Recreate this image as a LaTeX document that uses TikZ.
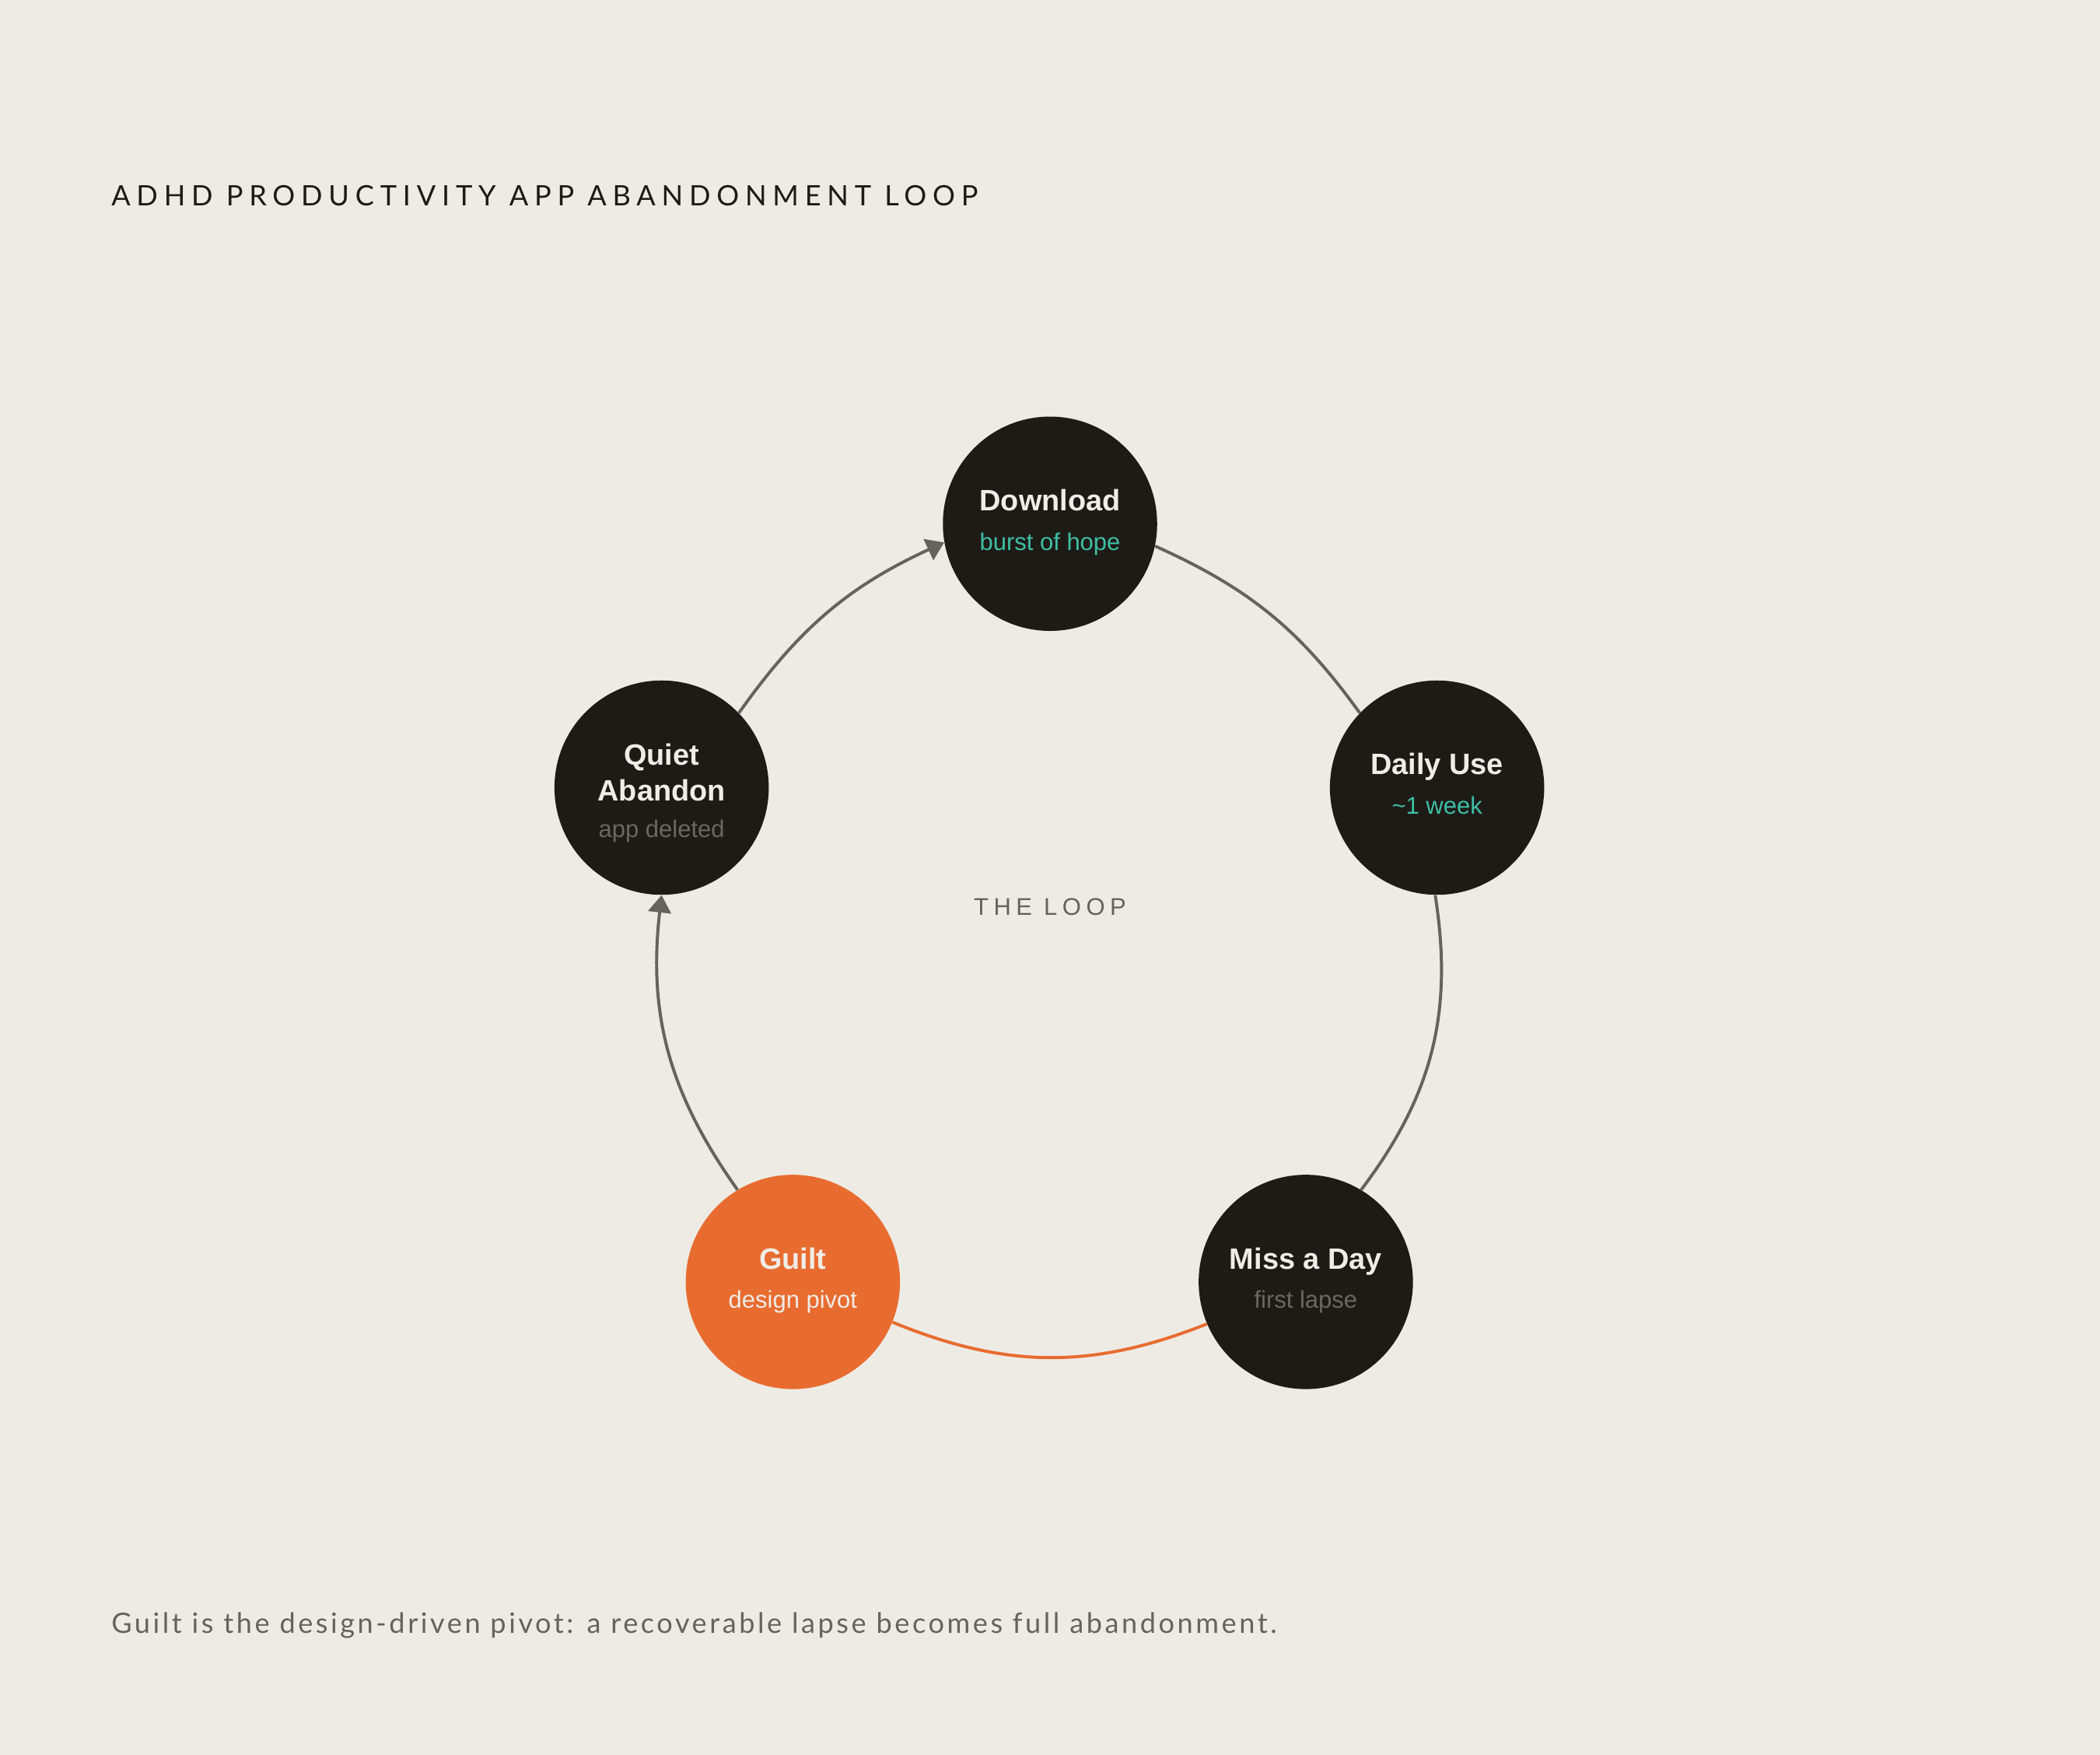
\documentclass[tikz,border=0pt]{standalone}
\usepackage{fontspec}
\setmainfont{Liberation Sans}
\newfontfamily\headfont[LetterSpace=21.5]{Lato}
\newfontfamily\notefont[LetterSpace=9.8]{Lato}
\newfontfamily\loopfont[LetterSpace=21]{Liberation Sans}
\usetikzlibrary{arrows.meta}

\definecolor{paper}{HTML}{EEEBE5}
\definecolor{ink}{HTML}{1E1B17}
\definecolor{pale}{HTML}{F0ECE6}
\definecolor{mint}{HTML}{3DBFA5}
\definecolor{ash}{HTML}{6B6760}
\definecolor{wire}{HTML}{66635E}
\definecolor{ember}{HTML}{E86C30}

\newcommand{\sub}{\fontsize{18}{29.5}\selectfont}

\tikzset{
	stage/.style={circle, fill=ink, minimum size=160pt, inner sep=0pt,
		align=center, text=pale, font=\fontsize{22}{29.5}\selectfont},
	pivot/.style={stage, fill=ember},
	link/.style={draw=wire, line width=2.3pt},
	linkhead/.style={link, -{Triangle[length=13pt,width=17pt]}},
}

\begin{document}
\begin{tikzpicture}[x=1pt,y=1pt]
		\fill[paper] (0,0) rectangle (1568,1310);
		\useasboundingbox (0,0) rectangle (1568,1310);

		\node[anchor=base west, inner sep=0pt, text=ink, font=\headfont\fontsize{21}{25}\selectfont]
			(title) at (83,1156.6) {ADHD PRODUCTIVITY APP ABANDONMENT LOOP};

		\node[stage] (download) at (784,919) {\textbf{Download}\\{\sub\color{mint}burst of hope}\rule[-6pt]{0pt}{6pt}};
		\node[stage] (daily) at (1073,722) {\textbf{Daily Use}\\{\sub\color{mint}\textasciitilde1 week}\rule[-6pt]{0pt}{6pt}};
		\node[stage] (missday) at (975,353) {\textbf{Miss a Day}\\{\sub\color{ash}first lapse}\rule[-6pt]{0pt}{6pt}};
		\node[pivot] (guilt) at (592,353) {\textbf{Guilt}\\{\sub\color{pale}design pivot}\rule[-6pt]{0pt}{6pt}};
		\node[stage] (quiet) at (494,722) {\rule{0pt}{24pt}\textbf{Quiet}\\[-3pt]\textbf{Abandon}\\[-2pt]{\sub\color{ash}app deleted}};

		\draw[link] (download.-12) to[bend left=15] (daily.136);
		\draw[link] (daily.-91) to[bend left=23] (missday.59);
		\draw[link, draw=ember] (missday.-157) to[bend left=22] (guilt.-22);
		\draw[linkhead] (guilt.121) to[bend left=21] (quiet.-90);
		\draw[linkhead] (quiet.44) to[bend left=15] (download.-170);

		\node[anchor=base, text=wire, font=\loopfont\fontsize{18}{22}\selectfont]
			(centre) at (784,626.7) {THE LOOP};

		\node[anchor=base west, inner sep=0pt, text=wire, font=\notefont\fontsize{21}{25}\selectfont]
			(note) at (83,90.5) {Guilt is the design-driven pivot: a recoverable lapse becomes full abandonment.};
	\end{tikzpicture}
\end{document}
